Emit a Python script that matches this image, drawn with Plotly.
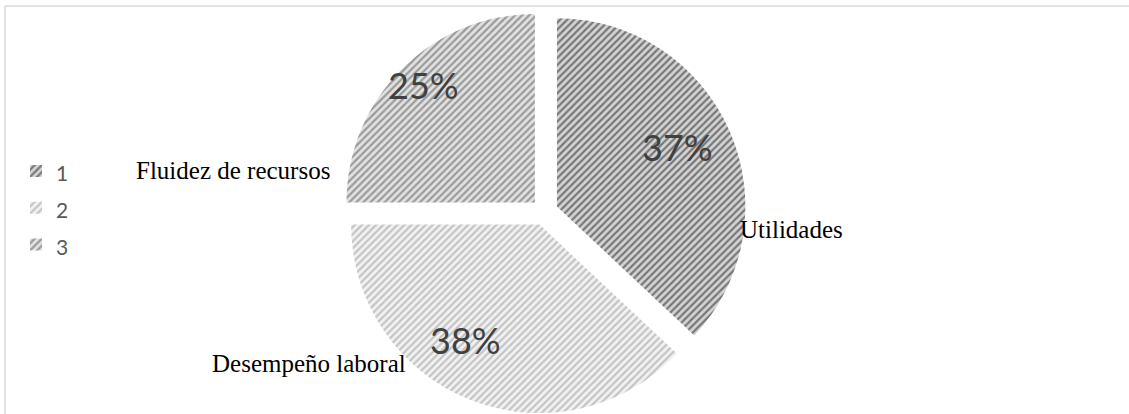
import plotly.graph_objects as go

# Slice data
labels = ["1", "2", "3"]
values = [37, 38, 25]
names = ["Utilidades", "Desempeño laboral", "Fluidez de recursos"]

# Hatch colours per slice
fg_colors = ["#777777", "#c4c4c4", "#9a9a9a"]
bg_colors = ["#d4d4d4", "#f2f2f2", "#e2e2e2"]

W, H = 1129, 414

fig = go.Figure()
fig.add_trace(go.Pie(
    labels=[f"<span style='font-size:21px'>{l}</span>" for l in labels],
    values=values,
    sort=False,
    direction="clockwise",
    rotation=0,
    pull=[0.072, 0.072, 0.072],
    hole=0,
    textinfo="none",
    marker=dict(
        colors=bg_colors,
        line=dict(width=0),
        pattern=dict(shape="/", fgcolor=fg_colors, bgcolor=bg_colors,
                     size=5, solidity=0.45),
    ),
    domain=dict(x=[342.5 / W, 746.5 / W], y=[0, 404 / H]),
))

annotations = []

# Percentage labels placed on each slice
total = sum(values)
pct_pos = [(677, 147), (465, 340), (423, 85)]
for v, (px, py) in zip(values, pct_pos):
    annotations.append(dict(
        text=f"{v / total * 100:.0f}%", x=px / W, y=1 - py / H,
        xref="paper", yref="paper", xanchor="center", yanchor="middle",
        showarrow=False,
        font=dict(family="Lato", size=36, color="#404040"),
    ))

# Category names beside the slices
name_pos = [(791, 229), (309, 363), (233, 170)]
for n, (px, py) in zip(names, name_pos):
    annotations.append(dict(
        text=n, x=px / W, y=1 - py / H, xref="paper", yref="paper",
        xanchor="center", yanchor="middle", showarrow=False,
        font=dict(family="Liberation Serif", size=25, color="#000000"),
    ))

# Light frame along top and left edges
shapes = [
    dict(type="line", xref="paper", yref="paper", x0=5 / W, x1=1, y0=1 - 6 / H, y1=1 - 6 / H,
         line=dict(color="#d9d9d9", width=1.5)),
    dict(type="line", xref="paper", yref="paper", x0=5 / W, x1=5 / W, y0=0, y1=1 - 6 / H,
         line=dict(color="#d9d9d9", width=1.5)),
]

fig.update_layout(
    width=W, height=H,
    margin=dict(l=0, r=0, t=0, b=0),
    paper_bgcolor="white", plot_bgcolor="white",
    showlegend=True,
    legend=dict(x=16 / W, y=1 - 208 / H, xanchor="left", yanchor="middle",
                font=dict(family="Lato", size=26, color="#595959"),
                bgcolor="rgba(0,0,0,0)"),
    annotations=annotations,
    shapes=shapes,
)

fig.write_html("out.html")
